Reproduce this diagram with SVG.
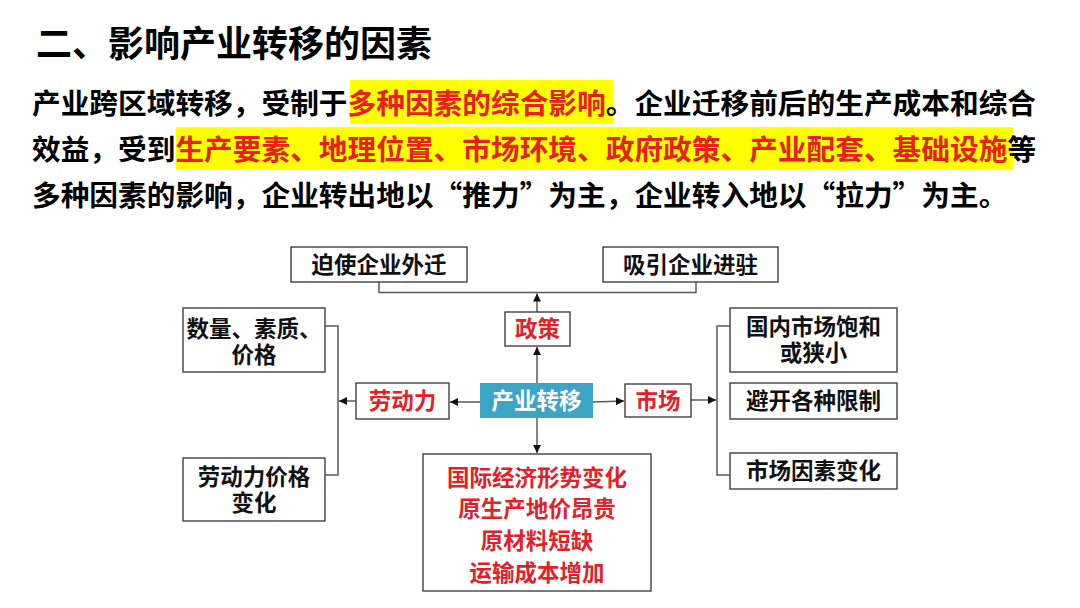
<svg xmlns="http://www.w3.org/2000/svg" width="1080" height="608" viewBox="0 0 1080 608">
<style>
text{font-family:"Noto Sans CJK SC","Noto Sans",sans-serif;font-weight:700;}
.title{font-size:36px;fill:#000;}
.p{font-size:28.7px;fill:#000;}
.hl{fill:#ffff00;}
.r{fill:#e8201a;}
.box{fill:#fff;stroke:#404040;stroke-width:1.4;}
.t{font-size:22.5px;fill:#111;text-anchor:middle;}
.tr{font-size:22.5px;fill:#e32028;text-anchor:middle;}
.tw{font-size:22.5px;fill:#fff;text-anchor:middle;}
.ln{fill:none;stroke:#5a5a5a;stroke-width:1.5;}
</style>
<defs>
<marker id="ah" markerUnits="userSpaceOnUse" markerWidth="9" markerHeight="8" refX="8" refY="4" orient="auto">
<path d="M0,0 L8,4 L0,8 z" fill="#111"/>
</marker>
</defs>
<rect width="1080" height="608" fill="#fff"/>
<text class="title" x="36" y="57">二、影响产业转移的因素</text>
<g id="paragraph">
<rect class="hl" x="350" y="80" width="263" height="44"/>
<rect class="hl" x="176" y="127" width="837" height="43"/>
<text class="p" x="32" y="114">产业跨区域转移，受制于<tspan class="r">多种因素的综合影响</tspan>。企业迁移前后的生产成本和综合</text>
<text class="p" x="32" y="160">效益，受到<tspan class="r">生产要素、地理位置、市场环境、政府政策、产业配套、基础设施</tspan>等</text>
<text class="p" x="32" y="206">多种因素的影响，企业转出地以“推力”为主，企业转入地以“拉力”为主。</text>
</g>
<g id="connectors">
<path class="ln" d="M379,282 V292.5 H696 V282"/>
<path class="ln" d="M325,326 H338 V475 H325"/>
<path class="ln" d="M730,326 H717 V475 H730"/>
<line class="ln" x1="537" y1="383" x2="537" y2="347" marker-end="url(#ah)"/>
<line class="ln" x1="537" y1="312" x2="537" y2="293.5" marker-end="url(#ah)"/>
<line class="ln" x1="480" y1="402" x2="450" y2="402" marker-end="url(#ah)"/>
<line class="ln" x1="356" y1="401" x2="339" y2="401" marker-end="url(#ah)"/>
<line class="ln" x1="537" y1="418" x2="537" y2="453" marker-end="url(#ah)"/>
<line class="ln" x1="593" y1="402" x2="624" y2="401" marker-end="url(#ah)"/>
<line class="ln" x1="691" y1="400" x2="716" y2="400" marker-end="url(#ah)"/>
</g>
<g id="n-pushout">
<rect class="box" x="291" y="247" width="176" height="35"/>
<text class="t" x="379" y="273">迫使企业外迁</text>
</g>
<g id="n-attract">
<rect class="box" x="603" y="247" width="175" height="35"/>
<text class="t" x="690.5" y="273">吸引企业进驻</text>
</g>
<g id="n-policy">
<rect class="box" x="505" y="312" width="65" height="34"/>
<text class="tr" x="537.5" y="337">政策</text>
</g>
<g id="n-center">
<rect x="480" y="383" width="113" height="35" fill="#3aa5c5"/>
<text class="tw" x="536.5" y="409">产业转移</text>
</g>
<g id="n-labor">
<rect class="box" x="356" y="383" width="93" height="36"/>
<text class="tr" x="402.5" y="409">劳动力</text>
</g>
<g id="n-market">
<rect class="box" x="625" y="384" width="66" height="33"/>
<text class="tr" x="658" y="409">市场</text>
</g>
<g id="n-quantity">
<rect class="box" x="183" y="308" width="142" height="64"/>
<text class="t" x="254" y="337">数量、素质、<tspan x="254" dy="26">价格</tspan></text>
</g>
<g id="n-laborprice">
<rect class="box" x="183" y="458" width="142" height="63"/>
<text class="t" x="254" y="485">劳动力价格<tspan x="254" dy="26">变化</tspan></text>
</g>
<g id="n-domestic">
<rect class="box" x="730" y="308" width="167" height="64"/>
<text class="t" x="813.5" y="335">国内市场饱和<tspan x="813.5" dy="26">或狭小</tspan></text>
</g>
<g id="n-avoid">
<rect class="box" x="730" y="383" width="167" height="36"/>
<text class="t" x="813.5" y="409">避开各种限制</text>
</g>
<g id="n-marketchange">
<rect class="box" x="730" y="453" width="167" height="36"/>
<text class="t" x="813.5" y="479">市场因素变化</text>
</g>
<g id="n-other">
<rect class="box" x="423" y="454" width="228" height="137"/>
<text class="tr" x="537" y="485.5">国际经济形势变化<tspan x="537" dy="31">原生产地价昂贵</tspan><tspan x="537" dy="32">原材料短缺</tspan><tspan x="537" dy="32">运输成本增加</tspan></text>
</g>
</svg>
